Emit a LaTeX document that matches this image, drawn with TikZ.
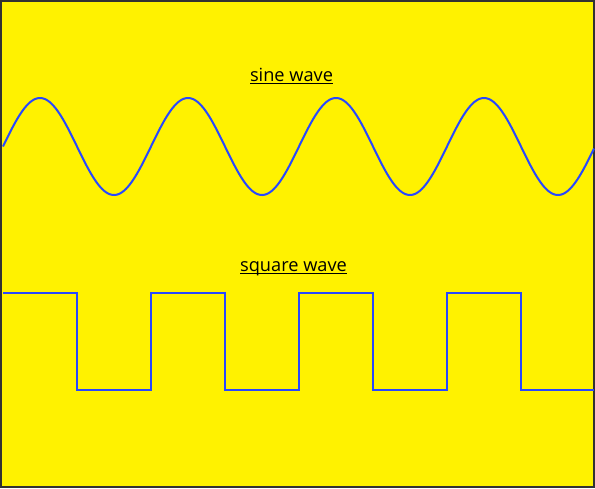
\documentclass[tikz,border=0pt]{standalone}
\usepackage{fontspec}
\setmainfont{Open Sans}
\newcommand\ulinetext[1]{\setbox0\hbox{#1}\rlap{\usebox0}\rule[-2.6pt]{\wd0}{1.1pt}}
\definecolor{bgyellow}{RGB}{255,242,0}
\definecolor{waveblue}{RGB}{40,72,255}
\definecolor{frame}{RGB}{50,50,50}
\begin{document}
\begin{tikzpicture}[x=1pt,y=-1pt,
  wave/.style={draw=waveblue,line width=2pt,line join=miter},
  label/.style={anchor=base,inner sep=0pt,font=\fontsize{18.2}{20}\selectfont}]
\useasboundingbox (0,0) rectangle (595,488);
\fill[bgyellow] (0,0) rectangle (595,488);
\draw[frame,line width=1.2pt] (1,1) rectangle (594,487);
\node[label] (sinelabel) at (291.5,81.5) {\ulinetext{sine wave}};
\node[label] (squarelabel) at (293.5,271) {\ulinetext{square wave}};
\draw[wave,smooth] plot[domain=3:594,samples=400,variable=\t] (\t,{146.5-48.5*sin(2.4324324*(\t-3))});
\draw[wave] (3,292.5) -- (77,292.5) -- (77,389.5) -- (151,389.5) -- (151,292.5)
  -- (225,292.5) -- (225,389.5) -- (299,389.5) -- (299,292.5)
  -- (373,292.5) -- (373,389.5) -- (447,389.5) -- (447,292.5)
  -- (521,292.5) -- (521,389.5) -- (594,389.5);
\end{tikzpicture}
\end{document}
